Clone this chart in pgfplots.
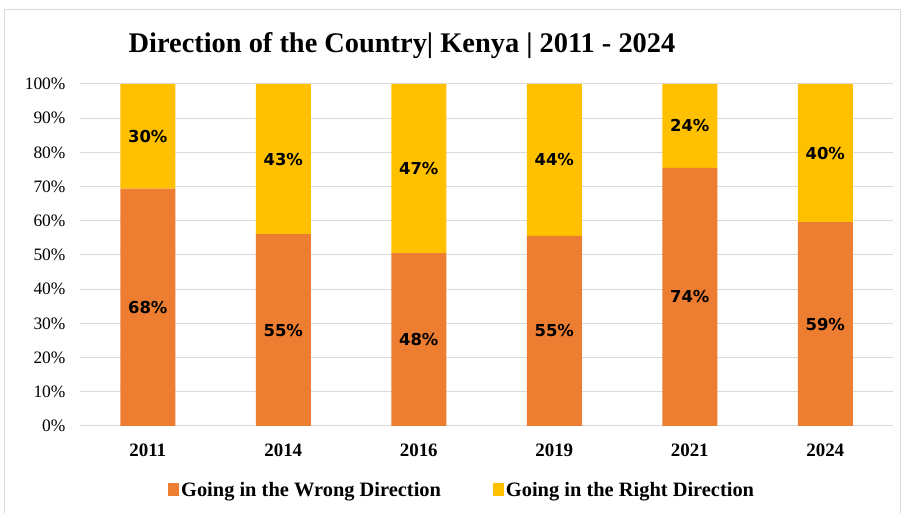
\documentclass[border=0pt]{standalone}
\usepackage{fontspec}
\setmainfont{Liberation Serif}
\newfontfamily\labfont{DejaVu Sans}
\usepackage{pgfplots}
\pgfplotsset{compat=1.18}
\definecolor{wrongc}{HTML}{ED7D31}
\definecolor{rightc}{HTML}{FFC000}
\definecolor{gridc}{HTML}{D9D9D9}

% shares of each year's bar (raw answers scaled to 100)
\pgfplotstableread{
x wrong right
0 69.39 30.61
1 56.12 43.88
2 50.53 49.47
3 55.56 44.44
4 75.51 24.49
5 59.60 40.40
}\shares

% label positions (segment middles) and printed values
\pgfplotstableread{
x y lab
0 34.69 68\%
1 28.06 55\%
2 25.26 48\%
3 27.78 55\%
4 37.76 74\%
5 29.80 59\%
0 84.69 30\%
1 78.06 43\%
2 75.26 47\%
3 77.78 44\%
4 87.76 24\%
5 79.80 40\%
}\labels

\begin{document}
\begin{tikzpicture}
\useasboundingbox (0bp,0bp) rectangle (905bp,513bp);
\draw[gridc,line width=1bp] (4bp,-5bp) -- (4bp,503bp) -- (900bp,503bp) -- (900bp,-5bp);
\node[font=\fontsize{28.5}{32}\selectfont\bfseries] at (402bp,467bp) {Direction of the Country| Kenya | 2011 - 2024};
\begin{axis}[
  at={(80bp,87bp)}, anchor=south west,
  scale only axis, width=813bp, height=342bp,
  ybar stacked, bar width=55bp,
  xmin=-0.5, xmax=5.5, ymin=0, ymax=100,
  xtick={0,1,2,3,4,5},
  xticklabels={2011,2014,2016,2019,2021,2024},
  ytick={0,10,...,100},
  yticklabel={\pgfmathprintnumber{\tick}\%},
  axis line style={draw=none},
  tick style={draw=none},
  ymajorgrids, grid style={gridc,line width=1bp},
  x tick label style={font=\fontsize{19}{21}\selectfont\bfseries, yshift=-14bp},
  y tick label style={font=\fontsize{17.5}{19}\selectfont, xshift=-11bp},
  /pgf/number format/assume math mode=true,
  legend columns=2,
  legend style={at={(0.47,-0.187)}, anchor=center, draw=none,
    font=\fontsize{20.5}{22}\selectfont\bfseries,
    /tikz/every even column/.append style={column sep=50bp}},
  legend image code/.code={\fill[#1] (0bp,-6bp) rectangle (11bp,7bp);},
]
\addplot[fill=wrongc, draw=none] table[x=x, y=wrong] {\shares};
\addlegendentry{Going in the Wrong Direction}
\addplot[fill=rightc, draw=none] table[x=x, y=right] {\shares};
\addlegendentry{Going in the Right Direction}
\end{axis}
\begin{axis}[
  at={(80bp,87bp)}, anchor=south west,
  scale only axis, width=813bp, height=342bp,
  xmin=-0.5, xmax=5.5, ymin=0, ymax=100,
  hide axis,
]
\addplot[draw=none, mark=none, nodes near coords, point meta=explicit symbolic,
  every node near coord/.style={anchor=center, font=\labfont\fontsize{16.5}{18}\selectfont\bfseries}]
  table[x=x, y=y, meta=lab] {\labels};
\end{axis}
\end{tikzpicture}
\end{document}
